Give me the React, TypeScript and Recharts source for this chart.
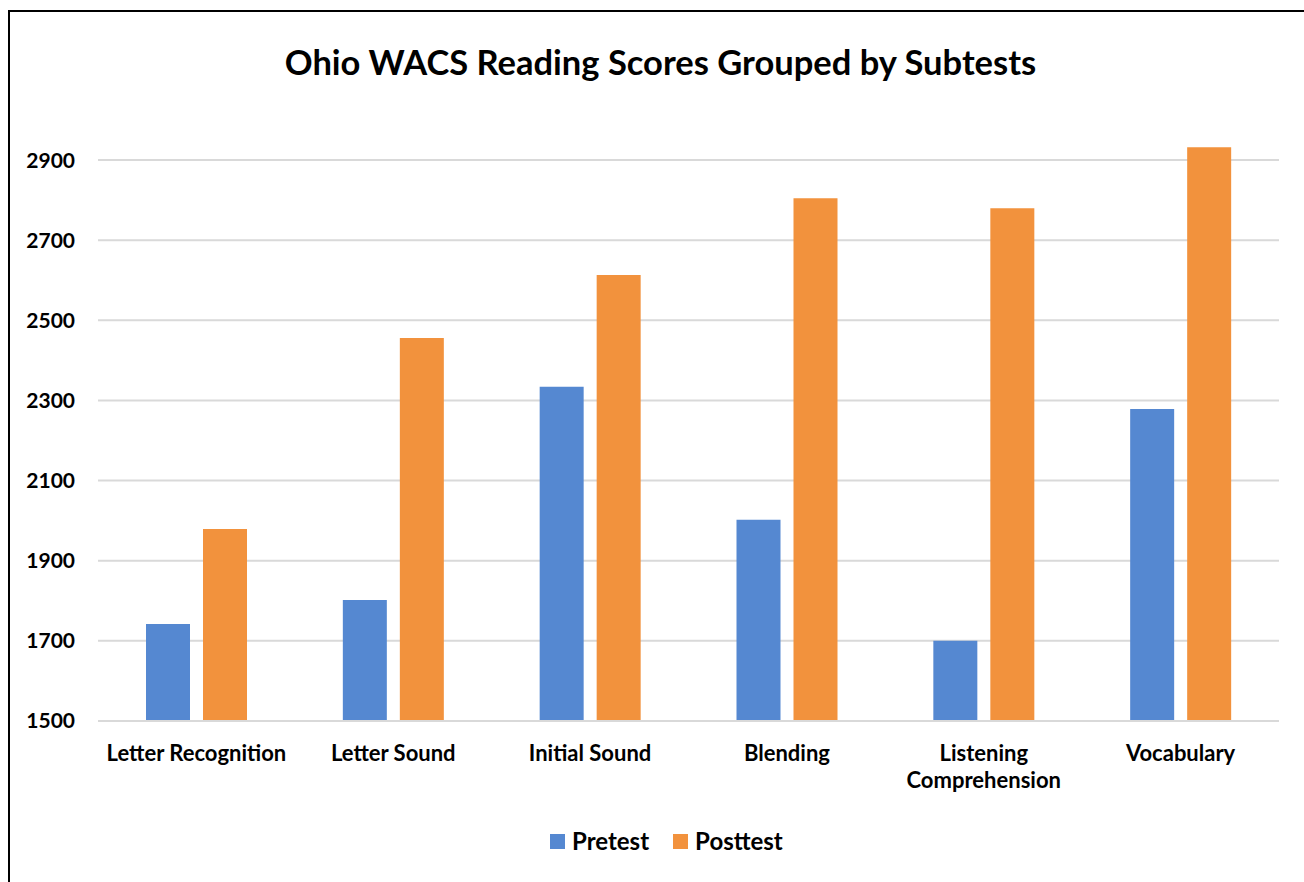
import { Bar, BarChart, CartesianGrid, XAxis, YAxis } from "recharts";

const subtests = [
  "Letter Recognition",
  "Letter Sound",
  "Initial Sound",
  "Blending",
  "Listening Comprehension",
  "Vocabulary",
];
const pretest = [1742, 1802, 2334, 2002, 1700, 2279];
const posttest = [1979, 2456, 2613, 2805, 2780, 2932];
const yTicks = [1500, 1700, 1900, 2100, 2300, 2500, 2700, 2900];

const FONT = "Lato, 'Open Sans', sans-serif";
const BLUE = "#5588D1";
const ORANGE = "#F2923D";

const data = subtests.map((name, i) => ({ name, pretest: pretest[i], posttest: posttest[i] }));

// long category names break onto two lines, like the spreadsheet did
const wrapLabel = (label: string) =>
  label === "Listening Comprehension" ? ["Listening", "Comprehension"] : [label];

function CategoryTick({ x, y, payload }: any) {
  const lines = wrapLabel(payload.value);
  return (
    <text x={x} y={y} textAnchor="middle" fill="#000" fontFamily={FONT} fontWeight={700} fontSize={22}>
      {lines.map((line, i) => (
        <tspan key={line} x={x} dy={i === 0 ? 40 : 27}>
          {line}
        </tspan>
      ))}
    </text>
  );
}

function ChartLegend() {
  const items = [
    { label: "Pretest", color: BLUE },
    { label: "Posttest", color: ORANGE },
  ];
  return (
    <div
      style={{
        position: "absolute",
        left: 550,
        top: 826,
        display: "flex",
        gap: 24,
        fontFamily: FONT,
        fontWeight: 700,
        fontSize: 24,
        lineHeight: "30px",
      }}
    >
      {items.map((it) => (
        <div key={it.label} style={{ display: "flex", alignItems: "center", gap: 7 }}>
          <span style={{ width: 15, height: 15, background: it.color, display: "inline-block" }} />
          <span>{it.label}</span>
        </div>
      ))}
    </div>
  );
}

export default function App() {
  return (
    <div style={{ position: "fixed", left: 0, top: 0, width: 1304, height: 882, overflow: "hidden", background: "#fff" }}>
      <div
        style={{
          position: "absolute",
          left: 8,
          top: 10,
          width: 1340,
          height: 920,
          border: "2px solid #000",
        }}
      />
      <div
        style={{
          position: "absolute",
          left: 0,
          top: 40,
          width: 1321,
          textAlign: "center",
          fontFamily: FONT,
          fontWeight: 700,
          fontSize: 34.5,
          lineHeight: "44px",
          color: "#000",
        }}
      >
        Ohio WACS Reading Scores Grouped by Subtests
      </div>
      <div style={{ position: "absolute", left: 0, top: 0 }}>
        <BarChart
          width={1304}
          height={882}
          data={data}
          margin={{ top: 120, right: 25, bottom: 0, left: 0 }}
          barGap={13}
          barCategoryGap={48}
        >
          <CartesianGrid vertical={false} horizontalValues={yTicks} stroke="#D9D9D9" strokeWidth={2} />
          <XAxis
            dataKey="name"
            axisLine={{ stroke: "#D9D9D9", strokeWidth: 2 }}
            tickLine={false}
            tickSize={0}
            tickMargin={0}
            interval={0}
            tick={<CategoryTick />}
            height={161}
          />
          <YAxis
            domain={[1500, 3000]}
            ticks={yTicks}
            width={98}
            axisLine={false}
            tickLine={false}
            tickSize={0}
            tickMargin={23}
            tick={{ fill: "#000", fontFamily: FONT, fontWeight: 700, fontSize: 21 }}
          />
          <Bar dataKey="pretest" name="Pretest" fill={BLUE} isAnimationActive={false} />
          <Bar dataKey="posttest" name="Posttest" fill={ORANGE} isAnimationActive={false} />
        </BarChart>
      </div>
      <ChartLegend />
    </div>
  );
}
